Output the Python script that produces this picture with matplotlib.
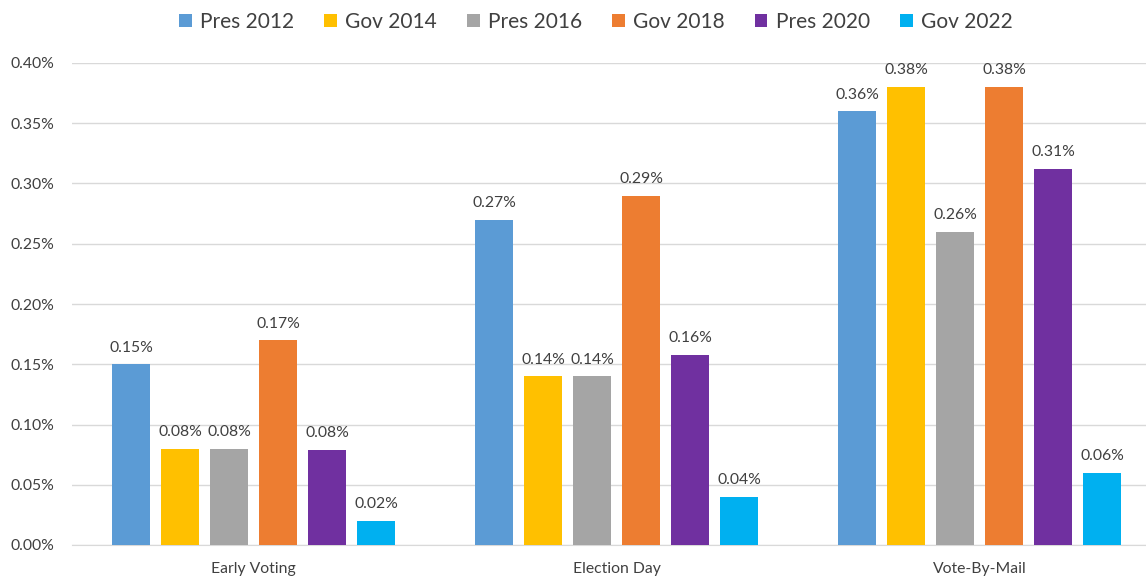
import numpy as np
import matplotlib.pyplot as plt

plt.rcParams['font.family'] = ['Lato', 'DejaVu Sans']

# data (percent)
categories = ['Early Voting', 'Election Day', 'Vote-By-Mail']
series = ['Pres 2012', 'Gov 2014', 'Pres 2016', 'Gov 2018', 'Pres 2020', 'Gov 2022']
pres_2012 = [0.15, 0.27, 0.36]
gov_2014 = [0.08, 0.14, 0.38]
pres_2016 = [0.08, 0.14, 0.26]
gov_2018 = [0.17, 0.29, 0.38]
pres_2020 = [0.079, 0.158, 0.312]
gov_2022 = [0.02, 0.04, 0.06]
values = [pres_2012, gov_2014, pres_2016, gov_2018, pres_2020, gov_2022]
colors = ['#5b9bd5', '#ffc000', '#a5a5a5', '#ed7d31', '#7030a0', '#00b0f0']

fig = plt.figure(figsize=(11.46, 5.77), dpi=100)
ax = fig.add_axes([72/1146, 1-545/577, 1089/1146, (545-63)/577])

x = np.arange(len(categories))
w = 0.102
step = 0.135
for i, (name, vals) in enumerate(zip(series, values)):
    pos = x + (i - 2.5) * step
    bars = ax.bar(pos, vals, width=w, color=colors[i], label=name, zorder=3)
    for b, v in zip(bars, vals):
        ax.text(b.get_x() + b.get_width()/2, v + 0.008, '%.2f%%' % v,
                ha='center', va='bottom', fontsize=11.3, color='#404040')

ax.set_xlim(-0.5, 2.5)
ax.set_ylim(0, 0.40)
ax.set_yticks(np.arange(0, 0.401, 0.05))
ax.set_yticklabels(['%.2f%%' % t for t in np.arange(0, 0.401, 0.05)])
ax.set_xticks(x)
ax.set_xticklabels(categories)
ax.tick_params(length=0, labelsize=11.3, labelcolor='#404040')
ax.tick_params(axis='y', pad=13)
ax.tick_params(axis='x', pad=12)
ax.grid(axis='y', color='#d9d9d9', linewidth=1, zorder=0)
for s in ['top', 'right', 'left']:
    ax.spines[s].set_visible(False)
ax.spines['bottom'].set_color('#d9d9d9')

fig.legend(loc='upper center', bbox_to_anchor=(0.52, 1.012), ncol=6, frameon=False,
           fontsize=15, handlelength=0.6, handleheight=0.6, handletextpad=0.4,
           columnspacing=1.45, labelcolor='#404040')

fig.savefig('out.png', dpi=100)
